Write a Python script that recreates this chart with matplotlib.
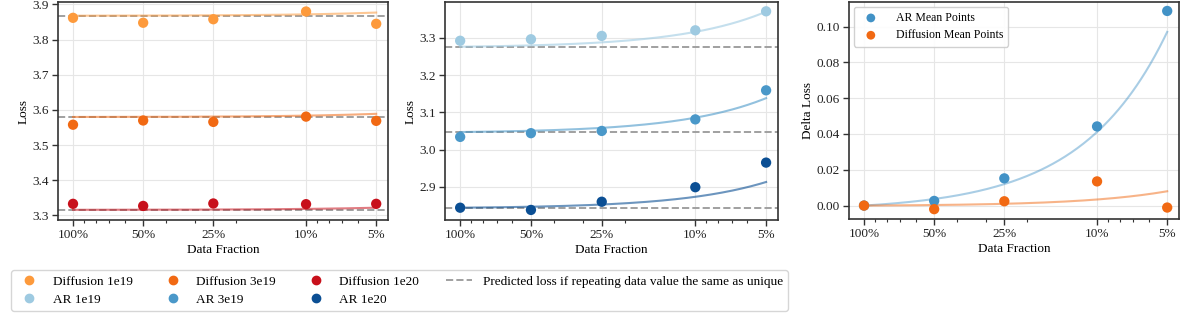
import numpy as np
import matplotlib
matplotlib.use("Agg")
import matplotlib.pyplot as plt
from matplotlib.ticker import FixedLocator, NullFormatter, LogLocator
from matplotlib.lines import Line2D

plt.rcParams['font.family'] = ['Liberation Serif', 'DejaVu Serif']
plt.rcParams['mathtext.fontset'] = 'stix'

# ---------------- data ----------------
fractions = [1.0, 0.5, 0.25, 0.1, 0.05]
frac_labels = ["100%", "50%", "25%", "10%", "5%"]

diff_1e19 = [3.862, 3.848, 3.858, 3.880, 3.845]
diff_3e19 = [3.558, 3.570, 3.566, 3.581, 3.569]
diff_1e20 = [3.333, 3.327, 3.334, 3.332, 3.333]

ar_1e19 = [3.292, 3.296, 3.305, 3.320, 3.371]
ar_3e19 = [3.034, 3.044, 3.050, 3.081, 3.159]
ar_1e20 = [2.844, 2.838, 2.860, 2.899, 2.965]

ar_mean_delta = [0.0, 0.0026, 0.0152, 0.0442, 0.1087]
diff_mean_delta = [0.0, -0.0020, 0.0024, 0.0135, -0.0011]

# predicted loss (unique-data baseline) per series
pred_diff = [3.868, 3.580, 3.316]
pred_ar = [3.276, 3.047, 2.844]

# fitted curve values at 5%, curve starts at baseline
fit_end_diff = [3.877, 3.589, 3.322]
fit_end_ar = [3.370, 3.138, 2.913]
fit_end_mean_ar = 0.097
fit_end_mean_diff = 0.008
fit_rate = 0.82

diff_colors = ["#fd9a3c", "#f16913", "#c8101b"]
ar_colors = ["#9ecae1", "#4a98c9", "#0b4f94"]
diff_names = ["Diffusion 1e19", "Diffusion 3e19", "Diffusion 1e20"]
ar_names = ["AR 1e19", "AR 3e19", "AR 1e20"]

FS = 9.5

# ---------------- figure ----------------
W, H = 1196, 327
fig = plt.figure(figsize=(W / 100, H / 100), dpi=100)

def axes_px(l, r, t, b):
    return fig.add_axes([l / W, 1 - b / H, (r - l) / W, (b - t) / H])

ax1 = axes_px(58, 388, 2, 220)
ax2 = axes_px(445, 778, 2, 220)
ax3 = axes_px(849, 1179, 2, 219)

xs = np.geomspace(1.0, 0.05, 200)

def fit_curve(base, end):
    t = np.log2(1.0 / xs)
    tmax = np.log2(1.0 / 0.05)
    return base + (end - base) * (np.exp(fit_rate * t) - 1) / (np.exp(fit_rate * tmax) - 1)

def style_axes(ax):
    ax.set_xscale('log')
    ax.set_xlim(1.16, 0.0445)
    ax.xaxis.set_major_locator(FixedLocator(fractions))
    ax.set_xticklabels(frac_labels)
    ax.xaxis.set_minor_locator(LogLocator(base=10, subs=np.arange(2, 10) * 1.0))
    ax.xaxis.set_minor_formatter(NullFormatter())
    ax.grid(True, which='major', color='#e6e6e6', linewidth=0.8)
    ax.set_axisbelow(True)
    for s in ax.spines.values():
        s.set_color('#333333')
        s.set_linewidth(1.2)
    ax.tick_params(axis='both', which='major', direction='out', length=4, width=1,
                   color='#333333', labelsize=FS, labelcolor='#222222', pad=2.5)
    ax.tick_params(axis='x', which='minor', direction='out', length=2.5, width=0.8, color='#333333')
    ax.set_xlabel("Data Fraction", fontsize=FS, labelpad=2)

# panel 1: diffusion
for vals, base, end, c in zip([diff_1e19, diff_3e19, diff_1e20], pred_diff, fit_end_diff, diff_colors):
    ax1.axhline(base, color='#a0a0a0', linestyle='--', linewidth=1.4, zorder=2)
    ax1.plot(xs, fit_curve(base, end), color=c, alpha=0.55, linewidth=1.5, zorder=3)
    ax1.scatter(fractions, vals, color=c, s=55, zorder=4, edgecolors='none')
style_axes(ax1)
ax1.set_ylim(3.287, 3.907)
ax1.set_yticks([3.3, 3.4, 3.5, 3.6, 3.7, 3.8, 3.9])
ax1.set_ylabel("Loss", fontsize=FS, labelpad=2)

# panel 2: AR
for vals, base, end, c in zip([ar_1e19, ar_3e19, ar_1e20], pred_ar, fit_end_ar, ar_colors):
    ax2.axhline(base, color='#a0a0a0', linestyle='--', linewidth=1.4, zorder=2)
    ax2.plot(xs, fit_curve(base, end), color=c, alpha=0.6, linewidth=1.5, zorder=3)
    ax2.scatter(fractions, vals, color=c, s=55, zorder=4, edgecolors='none')
style_axes(ax2)
ax2.set_ylim(2.811, 3.396)
ax2.set_yticks([2.9, 3.0, 3.1, 3.2, 3.3])
ax2.set_ylabel("Loss", fontsize=FS, labelpad=2)

# panel 3: delta loss
c_ar, c_diff = "#4292c6", "#f16913"
ax3.plot(xs, fit_curve(0.0, fit_end_mean_ar), color=c_ar, alpha=0.45, linewidth=1.5, zorder=3)
ax3.plot(xs, fit_curve(0.0, fit_end_mean_diff), color=c_diff, alpha=0.5, linewidth=1.5, zorder=3)
ax3.scatter(fractions, ar_mean_delta, color=c_ar, s=55, zorder=4, edgecolors='none', label="AR Mean Points")
ax3.scatter(fractions, diff_mean_delta, color=c_diff, s=55, zorder=4, edgecolors='none', label="Diffusion Mean Points")
style_axes(ax3)
ax3.set_ylim(-0.0075, 0.1137)
ax3.set_yticks([0.0, 0.02, 0.04, 0.06, 0.08, 0.10])
ax3.set_yticklabels(["0.00", "0.02", "0.04", "0.06", "0.08", "0.10"])
ax3.set_ylabel("Delta Loss", fontsize=FS, labelpad=2)
leg3 = ax3.legend(loc='upper left', fontsize=8.5, frameon=True, framealpha=0.9,
                  edgecolor='#cccccc', borderpad=0.45, handletextpad=1.1,
                  markerscale=0.85, borderaxespad=0.4, labelspacing=0.45)

# shared legend
handles = []
labels = []
for dn, an, dc, ac in zip(diff_names, ar_names, diff_colors, ar_colors):
    handles.append(Line2D([], [], marker='o', linestyle='none', color=dc, markersize=6))
    labels.append(dn)
    handles.append(Line2D([], [], marker='o', linestyle='none', color=ac, markersize=6))
    labels.append(an)
handles.append(Line2D([], [], color='#a0a0a0', linestyle='--', linewidth=1.4))
labels.append("Predicted loss if repeating data value the same as unique")
fig.legend(handles, labels, loc='lower left', bbox_to_anchor=(11 / W, 16 / H), ncol=4,
           fontsize=FS, frameon=True, edgecolor='#cccccc', handletextpad=0.8,
           columnspacing=2.0, handlelength=2.0, borderpad=0.4, labelspacing=0.45,
           borderaxespad=0.0)

fig.savefig("out.png", dpi=100)
